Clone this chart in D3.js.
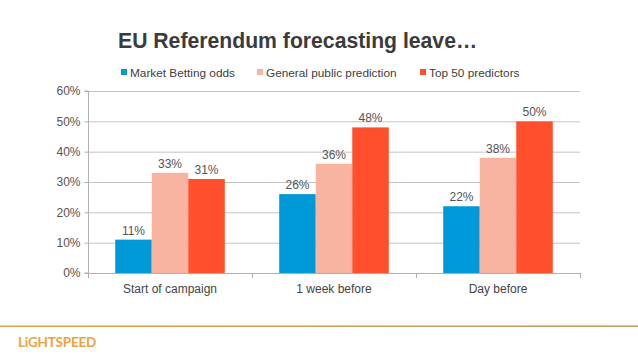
<!DOCTYPE html>
<html><head><meta charset="utf-8">
<script src="https://cdn.jsdelivr.net/npm/d3@7"></script>
<style>body{margin:0;background:#fff;}svg{display:block;font-family:"Liberation Sans",Arial,sans-serif;}</style>
</head><body>
<svg id="c" width="638" height="359"></svg>
<script>
const categories = ["Start of campaign", "1 week before", "Day before"];
const seriesNames = ["Market Betting odds", "General public prediction", "Top 50 predictors"];
const marketBetting = [11, 26, 22];
const generalPublic = [33, 36, 38];
const top50 = [31, 48, 50];
const yTicks = [0, 10, 20, 30, 40, 50, 60];
const colors = ["#0099D8", "#F9B4A1", "#FF4F2C"];
const series = [marketBetting, generalPublic, top50];

const svg = d3.select("#c");
const pLeft = 88, pRight = 580, pTop = 91, pBottom = 273;
const x = d3.scaleBand().domain(categories).range([pLeft, pRight]).paddingInner(0).paddingOuter(0);
const xs = d3.scaleBand().domain(d3.range(3)).range([0, x.bandwidth()]).paddingInner(0).paddingOuter(0.745);
const y = d3.scaleLinear().domain([0, 60]).range([pBottom, pTop]);

// title
svg.append("text").attr("x", 118).attr("y", 48).attr("font-size", 21.2).attr("font-weight", "bold")
  .attr("fill", "#3b3b3b").text("EU Referendum forecasting leave…");

// legend
const legX = [121, 257, 420];
seriesNames.forEach((n, i) => {
  svg.append("rect").attr("x", legX[i]).attr("y", 69).attr("width", 6).attr("height", 6).attr("fill", colors[i]);
  svg.append("text").attr("x", legX[i] + 9).attr("y", 76.5).attr("font-size", 11.8).attr("fill", "#404040").text(n);
});

// gridlines
svg.append("g").selectAll("line").data(yTicks.filter(d => d > 0)).join("line")
  .attr("x1", pLeft).attr("x2", pRight).attr("y1", d => y(d) + 0.5).attr("y2", d => y(d) + 0.5)
  .attr("stroke", "#c4c4c4").attr("stroke-width", 1);

// y axis
const ya = svg.append("g").attr("transform", `translate(${pLeft + 0.5},0)`)
  .call(d3.axisLeft(y).tickValues(yTicks).tickFormat(d => d + "%").tickSize(4).tickPadding(4));
ya.select(".domain").attr("stroke", "#b0b0b0").attr("d", `M-4,${pTop}H0V${pBottom}H-4`);
ya.selectAll(".tick line").attr("stroke", "#b0b0b0");
ya.selectAll("text").attr("font-size", 12).attr("fill", "#555").attr("font-family", "Liberation Sans, Arial, sans-serif");

// x axis
svg.append("line").attr("x1", pLeft).attr("x2", pRight).attr("y1", pBottom + 0.5).attr("y2", pBottom + 0.5).attr("stroke", "#b0b0b0");
const bounds = [pLeft, ...categories.map(c => x(c) + x.bandwidth())];
svg.append("g").selectAll("line").data(bounds).join("line")
  .attr("x1", d => d + 0.5).attr("x2", d => d + 0.5).attr("y1", pBottom).attr("y2", pBottom + 5).attr("stroke", "#b0b0b0");
svg.append("g").selectAll("text").data(categories).join("text")
  .attr("x", d => x(d) + x.bandwidth() / 2).attr("y", 293).attr("text-anchor", "middle")
  .attr("font-size", 12).attr("fill", "#444").text(d => d);

// bars
categories.forEach((c, ci) => {
  series.forEach((s, si) => {
    const bx = x(c) + xs(si);
    svg.append("rect").attr("x", bx).attr("y", y(s[ci])).attr("width", xs.bandwidth())
      .attr("height", y(0) - y(s[ci])).attr("fill", colors[si]);
    svg.append("text").attr("x", bx + xs.bandwidth() / 2).attr("y", y(s[ci]) - 5)
      .attr("text-anchor", "middle").attr("font-size", 12).attr("fill", "#555").text(s[ci] + "%");
  });
});

// footer
const grad = svg.append("defs").append("linearGradient").attr("id", "g1");
grad.append("stop").attr("offset", "0%").attr("stop-color", "#d9a44a");
grad.append("stop").attr("offset", "100%").attr("stop-color", "#b89a6a");
svg.append("rect").attr("x", 0).attr("y", 325.5).attr("width", 638).attr("height", 1.5).attr("fill", "url(#g1)");
svg.append("text").attr("x", 18).attr("y", 347).attr("font-size", 13.5).attr("font-weight", "bold")
  .attr("fill", "#ECA340").attr("letter-spacing", "-0.2").attr("font-family", "Lato, sans-serif").text("LiGHTSPEED");
</script>
</body></html>
